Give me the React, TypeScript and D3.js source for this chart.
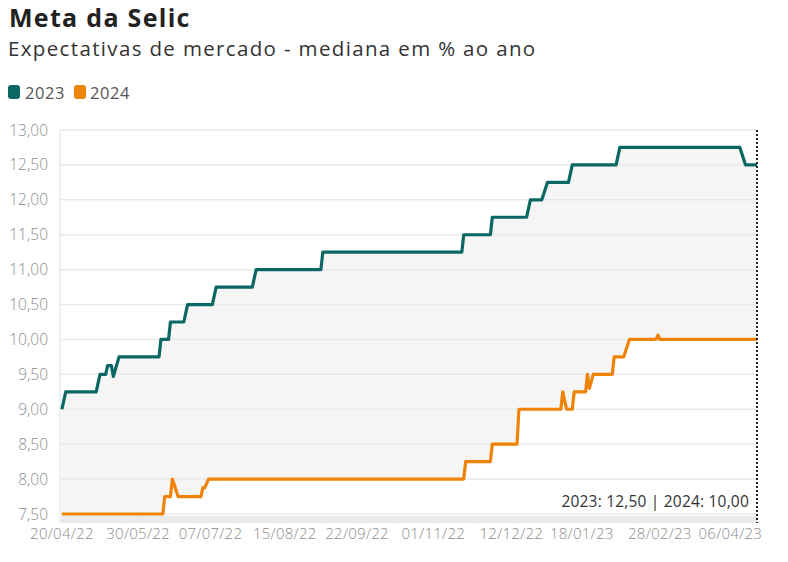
import React from "react";
import * as d3 from "d3";

const title = "Meta da Selic";
const subtitle = "Expectativas de mercado - mediana em % ao ano";
const seriesNames = ["2023", "2024"];
const seriesColors = ["#0b6763", "#ee8306"];

// [date, value]
const s2023: [string, number][] = [
  ["2022-04-20", 9.0], ["2022-04-22", 9.25], ["2022-05-08", 9.25], ["2022-05-10", 9.5],
  ["2022-05-13", 9.5], ["2022-05-14", 9.625], ["2022-05-16", 9.625], ["2022-05-17", 9.47],
  ["2022-05-20", 9.75], ["2022-06-10", 9.75], ["2022-06-11", 10.0], ["2022-06-15", 10.0],
  ["2022-06-16", 10.25], ["2022-06-23", 10.25], ["2022-06-25", 10.5], ["2022-07-08", 10.5],
  ["2022-07-10", 10.75], ["2022-07-29", 10.75], ["2022-07-31", 11.0], ["2022-09-03", 11.0],
  ["2022-09-04", 11.25], ["2022-11-16", 11.25], ["2022-11-17", 11.5], ["2022-12-01", 11.5],
  ["2022-12-02", 11.75], ["2022-12-20", 11.75], ["2022-12-22", 12.0], ["2022-12-28", 12.0],
  ["2022-12-31", 12.25], ["2023-01-11", 12.25], ["2023-01-13", 12.5], ["2023-02-05", 12.5],
  ["2023-02-07", 12.75], ["2023-04-11", 12.75], ["2023-04-14", 12.5], ["2023-04-20", 12.5],
];

const s2024: [string, number][] = [
  ["2022-04-20", 7.5], ["2022-06-12", 7.5], ["2022-06-13", 7.75], ["2022-06-16", 7.75],
  ["2022-06-17", 8.0], ["2022-06-20", 7.75], ["2022-07-02", 7.75], ["2022-07-03", 7.875],
  ["2022-07-04", 7.875], ["2022-07-06", 8.0], ["2022-11-17", 8.0], ["2022-11-18", 8.25],
  ["2022-12-01", 8.25], ["2022-12-02", 8.5], ["2022-12-15", 8.5], ["2022-12-16", 9.0],
  ["2023-01-07", 9.0], ["2023-01-08", 9.25], ["2023-01-10", 9.0], ["2023-01-13", 9.0],
  ["2023-01-14", 9.25], ["2023-01-20", 9.25], ["2023-01-21", 9.5], ["2023-01-22", 9.3],
  ["2023-01-24", 9.5], ["2023-02-03", 9.5], ["2023-02-04", 9.75], ["2023-02-09", 9.75],
  ["2023-02-12", 10.0], ["2023-02-26", 10.0], ["2023-02-27", 10.06], ["2023-02-28", 10.0],
  ["2023-04-20", 10.0],
];

const yTicks = [7.5, 8, 8.5, 9, 9.5, 10, 10.5, 11, 11.5, 12, 12.5, 13];
const xTickDates = [
  "2022-04-20", "2022-05-30", "2022-07-07", "2022-08-15", "2022-09-22",
  "2022-11-01", "2022-12-12", "2023-01-18", "2023-02-28", "2023-04-06",
];
const domainDates = ["2022-04-19", "2023-04-20"];
const annotation = "2023: 12,50 | 2024: 10,00";

const parse = d3.timeParse("%Y-%m-%d");
const fmtX = d3.timeFormat("%d/%m/%y");
const fmtY = (v: number) => v.toFixed(2).replace(".", ",");

export default function App() {
  const W = 788, H = 562;
  const left = 60, right = 757, top = 130, bottom = 514;
  const x = d3.scaleTime()
    .domain(domainDates.map((d) => parse(d)!) as [Date, Date])
    .range([left, right]);
  const y = d3.scaleLinear().domain([7.5, 13]).range([bottom, top]);

  const pts = (s: [string, number][]) =>
    s.map(([d, v]) => [x(parse(d)!), y(v)] as [number, number]);
  const p23 = pts(s2023);
  const p24 = pts(s2024);
  const line = d3.line();
  const areaPath = line([...p23, ...p24.slice().reverse()]) + "Z";

  const dayTicks = d3.timeDay.range(
    parse(domainDates[0])!,
    d3.timeDay.offset(parse(domainDates[1])!, 1)
  );

  const font = "'Open Sans', sans-serif";

  return (
    <svg width={W} height={H} style={{ position: "absolute", left: 0, top: 0, background: "#fff" }} fontFamily={font}>
      <text x={9} y={27} fontSize={25} fontWeight={700} fill="#222" letterSpacing={1.3}>{title}</text>
      <text x={8} y={56} fontSize={20.5} fill="#333" letterSpacing={1.35}>{subtitle}</text>

      {/* legend */}
      <rect x={8} y={85} width={12} height={14} rx={3} fill={seriesColors[0]} />
      <text x={25} y={99} fontSize={16.5} fill="#555" letterSpacing={0.6}>{seriesNames[0]}</text>
      <rect x={74} y={85} width={12} height={14} rx={3} fill={seriesColors[1]} />
      <text x={90} y={99} fontSize={16.5} fill="#555" letterSpacing={0.6}>{seriesNames[1]}</text>

      {/* area between */}
      <path d={areaPath} fill="#f5f5f5" />

      {/* grid */}
      {yTicks.map((t) => (
        <g key={t}>
          <line x1={left} x2={right} y1={y(t)} y2={y(t)} stroke="#e9e9e9" strokeWidth={1.5} />
          <text x={48} y={y(t) + 5.5} fontSize={15.5} textAnchor="end" fill="#8c8c8c" fontWeight={300}>
            {fmtY(t)}
          </text>
        </g>
      ))}
      <line x1={left} x2={left} y1={top} y2={bottom} stroke="#e9e9e9" strokeWidth={1.5} />

      {/* rug band */}
      <rect x={left} y={516} width={right - left} height={7} fill="#efefef" />
      {dayTicks.map((d, i) => (
        <line key={i} x1={x(d)} x2={x(d)} y1={516} y2={523} stroke="#e0e0e0" strokeWidth={0.6} />
      ))}

      {/* x labels */}
      {xTickDates.map((d) => (
        <text key={d} x={x(parse(d)!)} y={539} fontSize={15} textAnchor="middle" fill="#8c8c8c" fontWeight={300} letterSpacing={0.25}>
          {fmtX(parse(d)!)}
        </text>
      ))}

      {/* lines */}
      <path d={line(p24)!} fill="none" stroke={seriesColors[1]} strokeWidth={3.2} strokeLinejoin="round" />
      <path d={line(p23)!} fill="none" stroke={seriesColors[0]} strokeWidth={3.2} strokeLinejoin="round" />

      {/* dotted marker */}
      <line x1={right} x2={right} y1={top} y2={523} stroke="#222" strokeWidth={2} strokeDasharray="2,2" />
      <text x={749} y={507} fontSize={15.5} textAnchor="end" fill="#333" letterSpacing={0.2}>{annotation}</text>
    </svg>
  );
}
